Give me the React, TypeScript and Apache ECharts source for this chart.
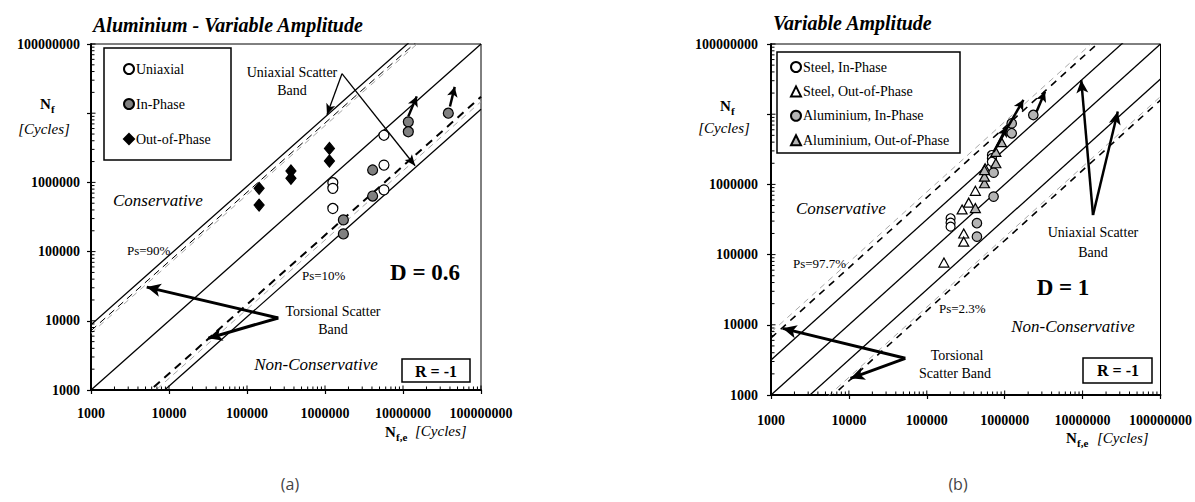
import React, { useEffect, useRef } from "react";
import * as echarts from "echarts";

const AXIS_MIN = 1000;
const AXIS_MAX = 100000000;
const SERIF = "Liberation Serif";

const decades = [1e3, 1e4, 1e5, 1e6, 1e7];
const minorMultipliers = [2, 3, 4, 5, 6, 7, 8, 9];
const xTickLabels = ["1000", "10000", "100000", "1000000", "10000000", "100000000"];
const yTickLabels = ["1000", "10000", "100000", "1000000", "", "100000000"];

// ---- Chart (a): Aluminium - Variable Amplitude, points [Nf,e, Nf]
const aUniaxial = [
  [1.26e6, 9.9e5], [1.26e6, 8.2e5], [1.26e6, 4.2e5],
  [5.7e6, 4.8e6], [5.7e6, 1.78e6], [5.7e6, 7.8e5],
];
const aInPhase = [
  [1.72e6, 2.87e5], [1.72e6, 1.8e5], [4.08e6, 1.51e6], [4.08e6, 6.35e5],
  [1.17e7, 7.5e6], [1.17e7, 5.4e6], [3.81e7, 1.0e7],
];
const aOutOfPhase = [
  [1.43e5, 8.2e5], [1.43e5, 4.7e5], [3.66e5, 1.46e6], [3.66e5, 1.15e6],
  [1.14e6, 3.1e6], [1.14e6, 2.04e6],
];
// band factors Nf = k * Nf,e
const aSolidFactors = [8.8, 1, 1 / 8.8];
const aThinDashedFactors = [7.2];
const aGreyDashedFactors = [6.6, 1 / 6.8];
const aThickDashedFactors = [1 / 5.8];
const aBandArrows = [
  [[1.65e6, 3.72e7], [1.06e6, 9.5e6]],
  [[1.65e6, 3.72e7], [1.43e7, 1.74e6]],
];
const aTorsionArrows = [
  [[2.52e5, 1.1e4], [5.18e3, 3.07e4]],
  [[2.52e5, 1.1e4], [3.19e4, 5.6e3]],
];
const aRunoutArrows = [
  [[1.17e7, 9.0e6], [1.5e7, 1.75e7]],
  [[4.0e7, 1.25e7], [4.6e7, 2.4e7]],
];

// ---- Chart (b): Variable Amplitude
const bSteelIn = [
  [2.02e5, 3.29e5], [2.02e5, 2.85e5], [2.02e5, 2.5e5],
  [6.85e5, 2.62e6], [6.85e5, 2.36e6], [6.85e5, 2.1e6],
];
const bSteelOut = [
  [1.66e5, 7.7e4], [2.98e5, 2.0e5], [2.98e5, 1.53e5], [2.84e5, 4.4e5],
  [3.45e5, 5.5e5], [4.2e5, 8.1e5], [5.6e5, 1.7e6],
];
const bAlIn = [
  [4.4e5, 1.8e5], [4.4e5, 2.8e5], [7.2e5, 6.7e5], [7.2e5, 1.47e6],
  [1.23e6, 7.4e6], [1.23e6, 5.35e6], [2.33e6, 9.75e6],
];
const bAlOut = [
  [4.2e5, 4.6e5], [5.5e5, 1.04e6], [5.5e5, 1.29e6], [5.5e5, 1.6e6],
  [7.7e5, 2.0e6], [7.7e5, 2.9e6], [9.1e5, 4.0e6],
];
const bSolidFactors = [3.16, 1, 1 / 3.16];
const bDashedFactors = [6.5, 1 / 6.3];
const bGreyDashedFactors = [7.8, 1 / 5.6];
const bTorsionArrows = [
  [[5.3e4, 3.33e3], [1.41e3, 8.9e3]],
  [[5.3e4, 3.33e3], [1.05e4, 1.73e3]],
];
const bUniaxialArrows = [
  [[1.36e7, 3.66e5], [9.6e6, 3.07e7]],
  [[1.36e7, 3.66e5], [2.83e7, 1.09e7]],
];
const bRunoutArrows = [
  [[7.2e5, 2.9e6], [1.74e6, 1.6e7]],
  [[7.9e5, 3.44e6], [1.06e6, 6.6e6]],
  [[2.57e6, 1.09e7], [3.29e6, 2.09e7]],
];

const tickValues: number[] = [];
decades.forEach((d) => {
  tickValues.push(d);
  minorMultipliers.forEach((m) => tickValues.push(d * m));
});
tickValues.push(AXIS_MAX);

const labelIndex = (v: number) => Math.round(Math.log10(v)) - 3;

function makeXAxis(gi: number) {
  return {
    gridIndex: gi, type: "log", logBase: 10, min: AXIS_MIN, max: AXIS_MAX, splitNumber: 5,
    axisLine: { onZero: false, lineStyle: { color: "#000", width: 2 } },
    axisTick: { show: true, length: 4, lineStyle: { color: "#000", width: 1.2 } },
    minorTick: { show: false },
    splitLine: { show: false },
    axisLabel: {
      margin: gi === 0 ? 16 : 18, color: "#000", fontFamily: SERIF, fontWeight: "bold", fontSize: 14,
      formatter: (v: number) => xTickLabels[labelIndex(v)] ?? "",
    },
  };
}
function makeYAxis(gi: number) {
  return {
    gridIndex: gi, type: "log", logBase: 10, min: AXIS_MIN, max: AXIS_MAX, splitNumber: 5,
    axisLine: { onZero: false, lineStyle: { color: "#000", width: 2 } },
    axisTick: { show: true, length: 4, lineStyle: { color: "#000", width: 1.2 } },
    minorTick: { show: false },
    splitLine: { show: false },
    axisLabel: {
      margin: gi === 0 ? 11 : 13, color: "#000", fontFamily: SERIF, fontWeight: "bold", fontSize: 14,
      formatter: (v: number) => yTickLabels[labelIndex(v)] ?? "",
    },
  };
}

function tickSeries(gi: number, dir: "x" | "y") {
  return {
    type: "custom", xAxisIndex: gi, yAxisIndex: gi, silent: true, clip: false, z: 6,
    data: tickValues.map((v) => (dir === "x" ? [v, AXIS_MIN] : [AXIS_MIN, v])),
    renderItem: (_p: any, api: any) => {
      const vx = api.value(0);
      const vy = api.value(1);
      const p = api.coord([vx, vy]);
      const v = dir === "x" ? vx : vy;
      const major = Math.abs(Math.log10(v) - Math.round(Math.log10(v))) < 1e-6;
      const l = major ? 4.5 : 3.5;
      return dir === "x"
        ? { type: "line", shape: { x1: p[0], y1: p[1], x2: p[0], y2: p[1] - l }, style: { stroke: "#000", lineWidth: 1 } }
        : { type: "line", shape: { x1: p[0], y1: p[1], x2: p[0] + l, y2: p[1] }, style: { stroke: "#000", lineWidth: 1 } };
    },
  };
}

function bandLine(gi: number, k: number, lineStyle: any) {
  return {
    type: "line", xAxisIndex: gi, yAxisIndex: gi, silent: true, symbol: "none", z: 2, clip: true,
    data: [[AXIS_MIN, AXIS_MIN * k], [AXIS_MAX, AXIS_MAX * k]],
    lineStyle,
  };
}

function arrowSeries(gi: number, arrows: number[][][], width: number, head: number[]) {
  return {
    type: "line", xAxisIndex: gi, yAxisIndex: gi, silent: true, symbol: "none", showSymbol: false, z: 10,
    data: [[AXIS_MIN, AXIS_MIN]],
    lineStyle: { width: 0, opacity: 0 },
    markLine: {
      silent: true, z: 10, animation: false,
      label: { show: false },
      lineStyle: { type: "solid", color: "#000", width },
      emphasis: { disabled: true },
      symbol: ["none", "arrow"],
      symbolSize: head,
      data: arrows.map((a) => [{ coord: a[0] }, { coord: a[1] }]),
    },
  };
}

function scatter(gi: number, name: string, data: number[][], symbol: string, size: any, fill: string) {
  return {
    type: "scatter", name, xAxisIndex: gi, yAxisIndex: gi, data, symbol, symbolSize: size, z: 5,
    itemStyle: { color: fill, borderColor: "#000", borderWidth: 1.2, opacity: 1 },
  };
}

const F = (size: number, bold = false, italic = false, family = SERIF) => {
  const f: any = { fontFamily: family, fontSize: size };
  if (italic) f.fontStyle = "italic";
  if (bold) f.fontWeight = "bold";
  return f;
};

const txt = (text: string, x: number, y: number, font: any, align = "left", fill = "#000") => ({
  type: "text", silent: true, z: 20,
  style: { text, x, y, ...font, fill, align, verticalAlign: "middle" },
});
const box = (x: number, y: number, w: number, h: number, lw = 1.5) => ({
  type: "rect", silent: true, z: 19,
  shape: { x, y, width: w, height: h },
  style: { fill: "#fff", stroke: "#000", lineWidth: lw },
});

const option: any = {
  animation: false,
  backgroundColor: "#fff",
  grid: [
    { left: 91, top: 44, width: 390, height: 346, show: true, borderColor: "#000", borderWidth: 1, backgroundColor: "transparent" },
    { left: 771, top: 44, width: 392, height: 351, show: true, borderColor: "#000", borderWidth: 1, backgroundColor: "transparent" },
  ],
  xAxis: [makeXAxis(0), makeXAxis(1)],
  yAxis: [makeYAxis(0), makeYAxis(1)],
  legend: [
    {
      data: ["Uniaxial", "In-Phase", "Out-of-Phase"], orient: "vertical", left: 123, top: 62,
      itemWidth: 10, itemHeight: 10, itemGap: 21, padding: 0, selectedMode: false, z: 25,
      textStyle: { fontFamily: SERIF, fontSize: 14, color: "#000", lineHeight: 14, padding: [0, 0, 0, -3] },
    },
    {
      data: ["Steel, In-Phase", "Steel, Out-of-Phase", "Aluminium, In-Phase", "Aluminium, Out-of-Phase"],
      orient: "vertical", left: 790, top: 60,
      itemWidth: 10, itemHeight: 10, itemGap: 10.4, padding: 0, selectedMode: false, z: 25,
      textStyle: { fontFamily: SERIF, fontSize: 14, color: "#000", lineHeight: 14, padding: [0, 0, 0, -3] },
    },
  ],
  series: [
    ...aSolidFactors.map((k) => bandLine(0, k, { color: "#000", width: 1.3, type: "solid" })),
    ...aGreyDashedFactors.map((k) => bandLine(0, k, { color: "#a8a8a8", width: 1, type: [6, 5] })),
    ...aThinDashedFactors.map((k) => bandLine(0, k, { color: "#000", width: 1, type: [7, 5] })),
    ...aThickDashedFactors.map((k) => bandLine(0, k, { color: "#000", width: 2, type: [8, 6] })),
    ...bSolidFactors.map((k) => bandLine(1, k, { color: "#000", width: 1.3, type: "solid" })),
    ...bGreyDashedFactors.map((k) => bandLine(1, k, { color: "#a8a8a8", width: 1, type: [6, 5] })),
    ...bDashedFactors.map((k) => bandLine(1, k, { color: "#000", width: 1.6, type: [7, 6] })),
    scatter(0, "Uniaxial", aUniaxial, "circle", 10, "#fff"),
    scatter(0, "In-Phase", aInPhase, "circle", 10, "#808080"),
    scatter(0, "Out-of-Phase", aOutOfPhase, "diamond", [10, 12], "#000"),
    scatter(1, "Steel, In-Phase", bSteelIn, "circle", 9, "#fff"),
    scatter(1, "Steel, Out-of-Phase", bSteelOut, "triangle", [10, 9], "#fff"),
    scatter(1, "Aluminium, In-Phase", bAlIn, "circle", 9.5, "#b4b4b4"),
    scatter(1, "Aluminium, Out-of-Phase", bAlOut, "triangle", [10, 9], "#b4b4b4"),
    arrowSeries(0, aBandArrows, 1.3, [7, 11]),
    arrowSeries(0, aTorsionArrows, 3, [10, 14]),
    arrowSeries(0, aRunoutArrows, 2.5, [8, 10]),
    arrowSeries(1, bTorsionArrows, 3, [10, 14]),
    arrowSeries(1, bUniaxialArrows, 2.5, [9, 13]),
    arrowSeries(1, bRunoutArrows, 2.5, [8, 10]),
    tickSeries(0, "x"), tickSeries(0, "y"), tickSeries(1, "x"), tickSeries(1, "y"),
  ],
  graphic: [
    // chart (a)
    txt("Aluminium - Variable Amplitude", 93, 25, F(20, true, true)),
    txt("N", 40, 104, F(15, true)),
    txt("f", 51, 109, F(11, true)),
    txt("[Cycles]", 44, 129, F(15, false, true), "center"),
    box(104, 48, 127, 112),
    txt("Conservative", 113, 200, F(17, false, true)),
    txt("Ps=90%", 127, 250, F(13)),
    txt("Uniaxial Scatter", 292, 72, F(14), "center"),
    txt("Band", 292, 90, F(14), "center"),
    txt("Ps=10%", 302, 275, F(13)),
    txt("D = 0.6", 425, 272, F(23, true), "center"),
    txt("Torsional Scatter", 333, 311, F(14), "center"),
    txt("Band", 333, 329, F(14), "center"),
    txt("Non-Conservative", 316, 364, F(17, false, true), "center"),
    box(402, 359, 68, 23),
    txt("R = -1", 436, 371, F(16, true), "center"),
    txt("N", 385, 432, F(15, true)),
    txt("f,e", 396, 437, F(11, true)),
    txt("[Cycles]", 415, 431, F(15, false, true)),
    txt("(a)", 290, 484, F(16, false, false, "Open Sans"), "center", "#444"),
    // chart (b)
    txt("Variable Amplitude", 773, 23, F(20, true, true)),
    txt("N", 720, 106, F(15, true)),
    txt("f", 731, 111, F(11, true)),
    txt("[Cycles]", 724, 128, F(15, false, true), "center"),
    box(777, 52, 183, 101),
    txt("Conservative", 796, 208, F(17, false, true)),
    txt("Ps=97.7%", 793, 263, F(13)),
    txt("Ps=2.3%", 939, 308, F(13)),
    txt("D = 1", 1063, 287, F(23, true), "center"),
    txt("Non-Conservative", 1073, 326, F(17, false, true), "center"),
    txt("Torsional", 957, 355, F(14), "center"),
    txt("Scatter Band", 955, 373, F(14), "center"),
    txt("Uniaxial Scatter", 1093, 232, F(14), "center"),
    txt("Band", 1093, 252, F(14), "center"),
    box(1083, 358, 69, 25),
    txt("R = -1", 1118, 370, F(16, true), "center"),
    txt("N", 1066, 438, F(15, true)),
    txt("f,e", 1077, 443, F(11, true)),
    txt("[Cycles]", 1097, 438, F(15, false, true)),
    txt("(b)", 958, 484, F(16, false, false, "Open Sans"), "center", "#444"),
  ],
};

export default function App() {
  const ref = useRef<HTMLDivElement>(null);
  useEffect(() => {
    const chart = echarts.init(ref.current!, null, { renderer: "svg" });
    chart.setOption(option);
    return () => chart.dispose();
  }, []);
  return (
    <div
      ref={ref}
      style={{ position: "absolute", left: 0, top: 0, width: 1195, height: 502, background: "#fff" }}
    />
  );
}
